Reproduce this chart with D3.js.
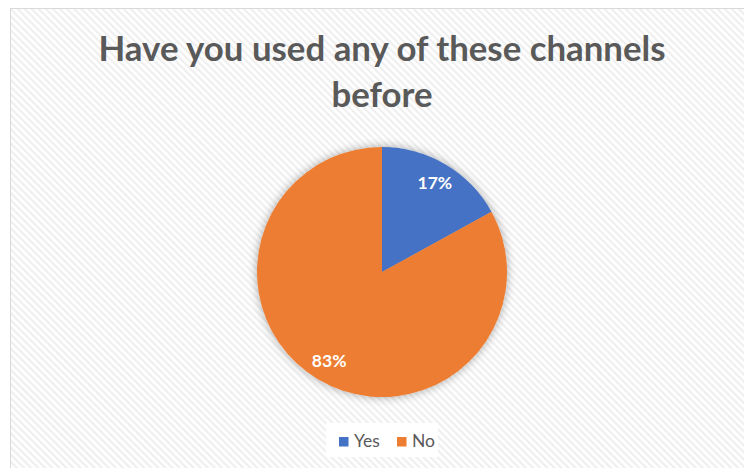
<!DOCTYPE html>
<html>
<head>
<meta charset="utf-8">
<script src="https://d3js.org/d3.v7.min.js"></script>
<style>
  body { margin: 0; background: #fff; }
  svg { display: block; }
</style>
</head>
<body>
<svg id="chart"></svg>
<script>
// data
var categories = ["Yes", "No"]
var values = [17, 83]
var colors = ["#4472C4", "#ED7D31"]
var titleLines = ["Have you used any of these channels", "before"]

var width = 744
var height = 468
var svg = d3.select("#chart")
	.attr("width", width)
	.attr("height", height)

var defs = svg.append("defs")
// light diagonal hatching like the Excel chart area
var pat = defs.append("pattern")
	.attr("id", "hatch")
	.attr("patternUnits", "userSpaceOnUse")
	.attr("width", 5)
	.attr("height", 5)
	.attr("patternTransform", "rotate(-45)")
pat.append("rect").attr("width", 5).attr("height", 5).attr("fill", "#ffffff")
pat.append("rect").attr("width", 2.2).attr("height", 5).attr("fill", "#efefef")

var shadow = defs.append("filter")
	.attr("id", "glow")
	.attr("x", "-20%").attr("y", "-20%")
	.attr("width", "140%").attr("height", "140%")
shadow.append("feGaussianBlur").attr("in", "SourceAlpha").attr("stdDeviation", 5).attr("result", "b")
shadow.append("feComponentTransfer").attr("in", "b").attr("result", "s")
	.append("feFuncA").attr("type", "linear").attr("slope", 0.35)
var merge = shadow.append("feMerge")
merge.append("feMergeNode").attr("in", "s")
merge.append("feMergeNode").attr("in", "SourceGraphic")

// chart area
svg.append("rect")
	.attr("x", 10.5)
	.attr("y", 8.5)
	.attr("width", width)
	.attr("height", height)
	.attr("fill", "url(#hatch)")
	.attr("stroke", "#d9d9d9")
	.attr("stroke-width", 1)

// title
var title = svg.append("text")
	.attr("text-anchor", "middle")
	.attr("font-family", "Lato, 'Open Sans', sans-serif")
	.attr("font-weight", "bold")
	.attr("font-size", 34.8)
	.attr("fill", "#595959")
title.selectAll("tspan").data(titleLines).enter().append("tspan")
	.attr("x", 382)
	.attr("y", (d, i) => 61 + i * 46)
	.text(d => d)

// pie
var cx = 382, cy = 272, r = 125
var pie = d3.pie().sort(null).value(d => d)
var arcs = pie(values)
var arc = d3.arc().innerRadius(0).outerRadius(r)
var labelArc = d3.arc().innerRadius(r * 0.83).outerRadius(r * 0.83)

var g = svg.append("g").attr("transform", "translate(" + cx + "," + cy + ")")
var slices = g.append("g").attr("filter", "url(#glow)")
slices.selectAll("path").data(arcs).enter().append("path")
	.attr("d", arc)
	.attr("fill", (d, i) => colors[i])

g.selectAll("text").data(arcs).enter().append("text")
	.attr("transform", d => "translate(" + labelArc.centroid(d) + ")")
	.attr("text-anchor", "middle")
	.attr("dy", "0.35em")
	.attr("font-family", "Lato, 'Open Sans', sans-serif")
	.attr("font-weight", "bold")
	.attr("font-size", 17.5)
	.attr("fill", "#ffffff")
	.text(d => Math.round(d.value / d3.sum(values) * 100) + "%")

// legend
var legend = svg.append("g")
legend.append("rect")
	.attr("x", 326).attr("y", 423)
	.attr("width", 112).attr("height", 34)
	.attr("fill", "#ffffff")
var legendX = d3.scaleOrdinal().domain(categories).range([339, 397])
var items = legend.selectAll("g.item").data(categories).enter().append("g")
	.attr("class", "item")
	.attr("transform", d => "translate(" + legendX(d) + ",437)")
items.append("rect")
	.attr("width", 9.5).attr("height", 9.5)
	.attr("fill", (d, i) => colors[i])
items.append("text")
	.attr("x", 15).attr("y", 9.5)
	.attr("font-family", "Lato, 'Open Sans', sans-serif")
	.attr("font-size", 17.5)
	.attr("fill", "#595959")
	.text(d => d)
</script>
</body>
</html>
